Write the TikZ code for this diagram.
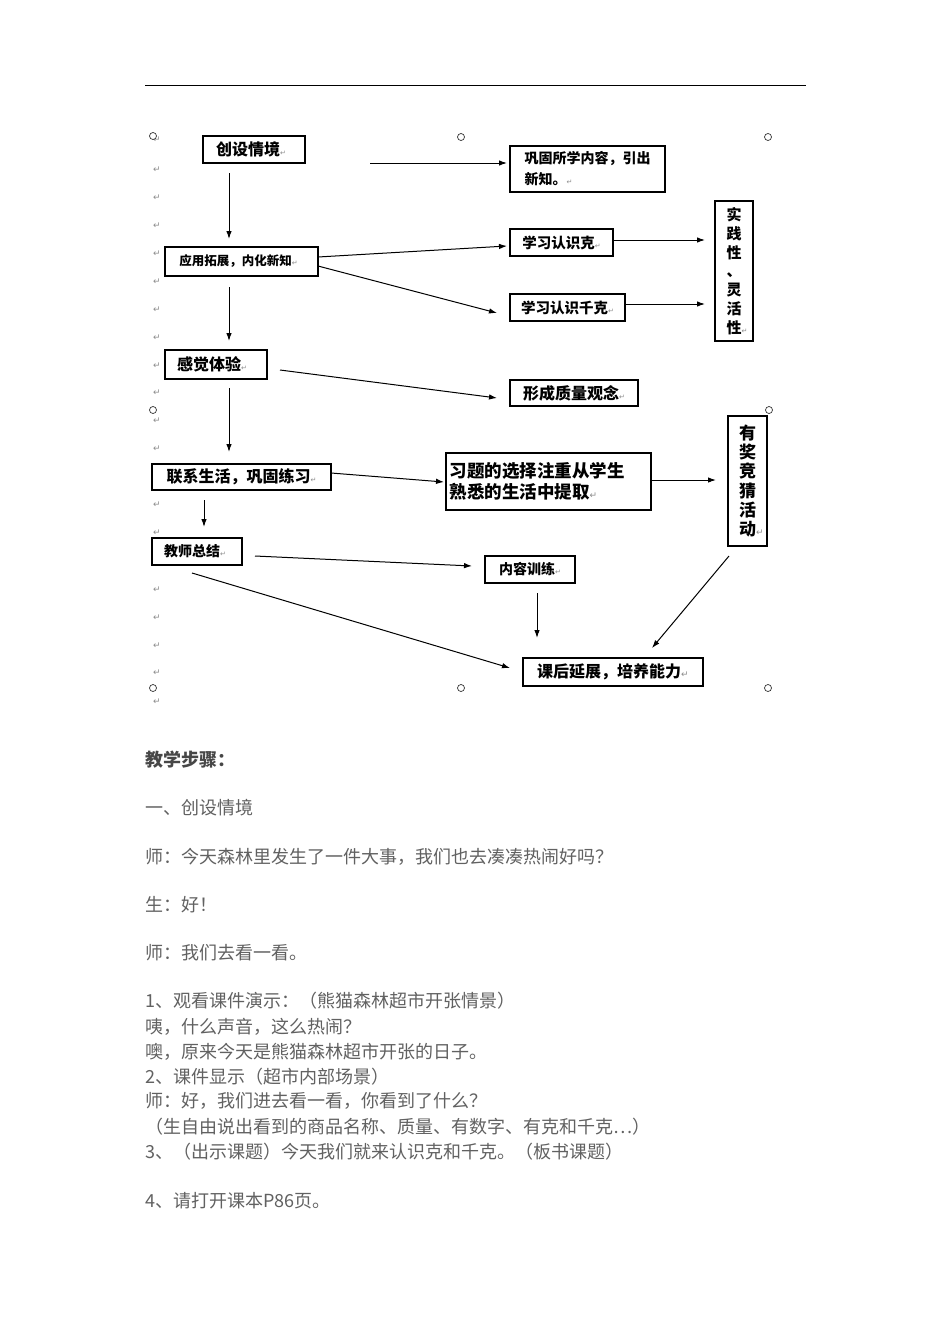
\documentclass[tikz,border=0pt]{standalone}
\usepackage{fontspec}
\newfontfamily\cjk{Noto Sans CJK SC}
\newfontfamily\djv{DejaVu Sans}
\usetikzlibrary{arrows.meta}
\tikzset{
  box/.style={draw, line width=1.3pt, inner sep=0pt, align=center, font=\cjk\bfseries},
  arr/.style={line width=1pt, -{Latex[length=8pt,width=5.5pt]}},
  pm/.style={font=\djv\fontsize{9}{9}\selectfont, text=black!45, inner sep=0pt},
  handle/.style={draw=black!80, line width=0.7pt, fill=white},
  body/.style={anchor=west, inner sep=0pt, text=black!62, font=\cjk\fontsize{18}{18}\selectfont},
}
\newcommand{\fsz}[2]{\fontsize{#1}{#2}\selectfont}
\newcommand{\pmk}{{\djv\mdseries\fsz{7}{7}\color{black!45}↵}}
\newcommand{\pmb}{{\djv\mdseries\fsz{9}{9}\color{black!45}↵}}
\begin{document}
\begin{tikzpicture}[x=1pt,y=-1pt]
\useasboundingbox (0,0) rectangle (950,1344);
\fill[white] (0,0) rectangle (950,1344);
% header rule
\draw[line width=1pt] (145,85) -- (806,85);
% paragraph marks
\foreach \y in {140,170,198,226,254,282,310,338,366,393,421,449,505,533,590,618,646,673,702}
  \node[pm] at (157,\y) {↵};
% boxes
\node[box, minimum width=102pt, minimum height=27pt, font=\cjk\bfseries\fsz{16}{18}] (b1) at (254,149.5) {创设情境\pmk\hspace*{6pt}};
\node[box, minimum width=155pt, minimum height=46pt, align=left, font=\cjk\bfseries\fsz{14}{21}] (b2) at (587.5,169) {巩固所学内容，引出\\新知。\pmk\hspace*{64pt}};
\node[box, minimum width=153pt, minimum height=29pt, font=\cjk\bfseries\fsz{12.5}{14}] (b3) at (241.5,261.5) {应用拓展，内化新知\pmk\hspace*{6pt}};
\node[box, minimum width=103pt, minimum height=27pt, font=\cjk\bfseries\fsz{14.5}{16}] (b4) at (561.5,242.5) {学习认识克\pmk};
\node[box, minimum width=115pt, minimum height=27pt, font=\cjk\bfseries\fsz{14.5}{16}] (b5) at (567.5,307.5) {学习认识千克\pmk};
\node[box, minimum width=38pt, minimum height=140pt, font=\cjk\bfseries\fsz{15}{18.8}] (b6) at (734,271) {实\\践\\性\\、\\灵\\活\\性\rlap{\pmk}};
\node[box, minimum width=102pt, minimum height=29pt, font=\cjk\bfseries\fsz{16}{18}] (b7) at (216,364.5) {感觉体验\pmk\hspace*{8pt}};
\node[box, minimum width=128pt, minimum height=26pt, font=\cjk\bfseries\fsz{16}{18}] (b8) at (574,393) {形成质量观念\pmk};
\node[box, minimum width=179pt, minimum height=26pt, font=\cjk\bfseries\fsz{16}{18}] (b9) at (241.5,477) {联系生活，巩固练习\pmk};
\node[box, minimum width=205pt, minimum height=57pt, align=left, font=\cjk\bfseries\fsz{17.5}{21.5}] (b10) at (548.5,481.5) {习题的选择注重从学生\\熟悉的生活中提取\pmb\hspace*{50pt}};
\node[box, minimum width=39pt, minimum height=130pt, font=\cjk\bfseries\fsz{17}{19.3}] (b11) at (747.5,481) {有\\奖\\竞\\猜\\活\\动\rlap{\pmb}};
\node[box, minimum width=90pt, minimum height=27pt, font=\cjk\bfseries\fsz{14}{16}] (b12) at (197,551.5) {教师总结\pmk\hspace*{4pt}};
\node[box, minimum width=90pt, minimum height=27pt, font=\cjk\bfseries\fsz{14}{16}] (b13) at (530,569.5) {内容训练\pmk};
\node[box, minimum width=180pt, minimum height=28pt, font=\cjk\bfseries\fsz{16}{18}] (b14) at (613,672) {课后延展，培养能力\pmb};
% arrow end points
\coordinate (p1a) at (370,163);   \coordinate (p1b) at (507,163);
\coordinate (p2a) at (229,173);   \coordinate (p2b) at (229,239);
\coordinate (p3a) at (318,257);   \coordinate (p3b) at (507,246);
\coordinate (p4a) at (318,266);   \coordinate (p4b) at (497,313);
\coordinate (p5a) at (613,240);   \coordinate (p5b) at (705,240);
\coordinate (p6a) at (625,304);   \coordinate (p6b) at (705,304);
\coordinate (p7a) at (229,287);   \coordinate (p7b) at (229,341);
\coordinate (p8a) at (280,370);   \coordinate (p8b) at (497,398);
\coordinate (p9a) at (229,388);   \coordinate (p9b) at (229,452);
\coordinate (p10a) at (331,473);  \coordinate (p10b) at (444,482);
\coordinate (p11a) at (651,480);  \coordinate (p11b) at (716,480);
\coordinate (p12a) at (204,500);  \coordinate (p12b) at (204,527);
\coordinate (p13a) at (255,556);  \coordinate (p13b) at (472,566);
\coordinate (p14a) at (192,573);  \coordinate (p14b) at (510,668);
\coordinate (p15a) at (537,593);  \coordinate (p15b) at (537,638);
\coordinate (p16a) at (729,556);  \coordinate (p16b) at (652,648);
\foreach \i in {1,...,16} \draw[arr] (p\i a) -- (p\i b);
% handles
\foreach \p in {(153,136),(461,137),(768,137),(153,410),(769,410),(153,688),(461,688),(768,688)}
  \draw[handle] \p circle (3.5);
% body text
\node[body, text=black!72, font=\cjk\bfseries\fsz{18}{18}] (t0) at (145,760) {教学步骤：};
\node[body] (t1) at (145,808) {一、创设情境};
\node[body] (t2) at (145,857) {师：今天森林里发生了一件大事，我们也去凑凑热闹好吗？};
\node[body] (t3) at (145,905) {生：好！};
\node[body] (t4) at (145,953) {师：我们去看一看。};
\node[body] (t5) at (145,1001) {1、观看课件演示：（熊猫森林超市开张情景）};
\node[body] (t6) at (145,1027) {咦，什么声音，这么热闹？};
\node[body] (t7) at (145,1052) {噢，原来今天是熊猫森林超市开张的日子。};
\node[body] (t8) at (145,1077) {2、课件显示（超市内部场景）};
\node[body] (t9) at (145,1101) {师：好，我们进去看一看，你看到了什么？};
\node[body] (t10) at (145,1127) {（生自由说出看到的商品名称、质量、有数字、有克和千克…）};
\node[body] (t11) at (145,1152) {3、（出示课题）今天我们就来认识克和千克。（板书课题）};
\node[body] (t12) at (145,1201) {4、请打开课本P86页。};
\end{tikzpicture}
\end{document}
